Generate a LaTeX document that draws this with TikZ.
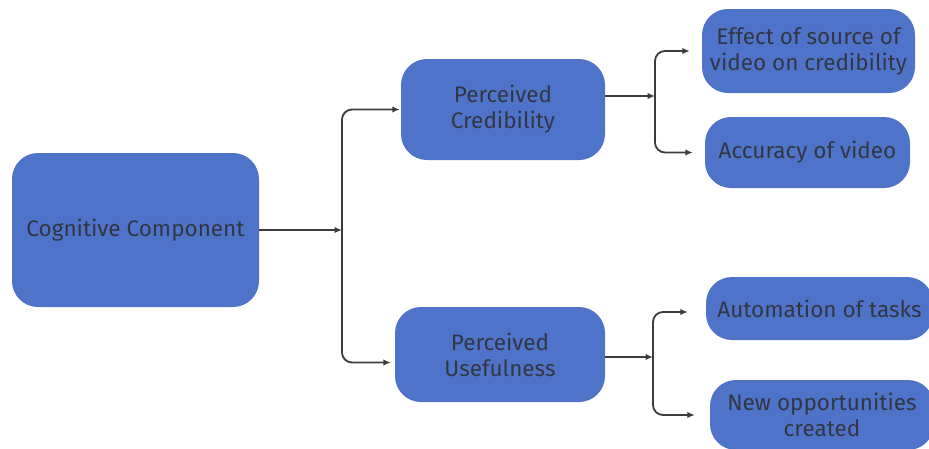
\documentclass[tikz,border=0pt]{standalone}
\usepackage{fontspec}
\setmainfont{Fira Sans}
\usetikzlibrary{arrows.meta}
\definecolor{boxblue}{RGB}{79,115,201}
\definecolor{txt}{RGB}{50,54,68}
\definecolor{ln}{RGB}{60,60,60}
\begin{document}
\begin{tikzpicture}[x=1pt,y=-1pt,
  box/.style={fill=boxblue, draw=none, rounded corners=26pt, text=txt, align=center,
    font=\fontsize{22.5}{26}\selectfont, inner sep=0pt},
  conn/.style={draw=ln, line width=1.8pt, rounded corners=10pt,
    -{Latex[length=7.5pt,width=6.5pt]}}]
\useasboundingbox (0,0) rectangle (929,448);
\node[box, minimum width=247pt, minimum height=154pt] (cog) at (135.5,230) {Cognitive Component};
\node[box, minimum width=204pt, minimum height=101pt] (pc) at (503,109.5) {Perceived\\Credibility};
\node[box, minimum width=210pt, minimum height=95pt] (pu) at (500,354.5) {Perceived\\Usefulness};
\node[box, minimum width=213pt, minimum height=84pt] (eff) at (808.5,51) {Effect of source of\\video on credibility};
\node[box, minimum width=205pt, minimum height=71pt] (acc) at (807.5,152.5) {Accuracy of video};
\node[box, minimum width=227pt, minimum height=63pt] (aut) at (819.5,308.5) {Automation of tasks};
\node[box, minimum width=224pt, minimum height=70pt] (new) at (822,415) {New opportunities\\created};
\coordinate (j1) at (342,230);
\coordinate (j2) at (655,96);
\coordinate (j3) at (653,357);
\draw[conn] (cog.east) -- (j1);
\draw[conn, shorten >=1pt] (j1) |- (pc.west);
\draw[conn, shorten >=4pt] (j1) |- ([yshift=-8pt]pu.west);
\draw[conn] ([yshift=13.5pt]pc.east) -- (j2);
\draw[conn, shorten >=12pt] (j2) |- (eff.west);
\draw[conn, shorten >=12pt] (j2) |- (acc.west);
\draw[conn] ([yshift=-2.5pt]pu.east) -- (j3);
\draw[conn, shorten >=18pt] (j3) |- ([yshift=-3.5pt]aut.west);
\draw[conn, shorten >=15pt] (j3) |- (new.west);
\end{tikzpicture}
\end{document}
